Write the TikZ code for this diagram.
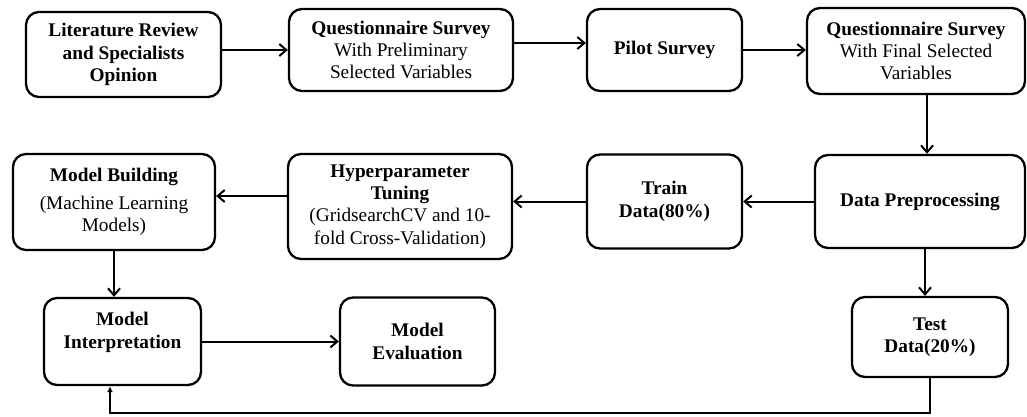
\documentclass[tikz,border=0pt]{standalone}
\usepackage{fontspec}
\setmainfont{Liberation Serif}
\usetikzlibrary{arrows.meta}

\begin{document}
\begin{tikzpicture}[x=1pt,y=-1pt]
      \tikzset{
        every node/.style={rectangle,rounded corners=13pt,line width=2.3pt,draw,align=center,inner sep=2pt,
          font=\fontsize{19.3}{22.3}\selectfont},
        flow/.style={line width=2pt,-{Straight Barb[length=7pt,width=12pt,line width=2pt]}},
        back/.style={line width=1.6pt,-{Latex[length=6pt,width=6pt]}}
      }
      \useasboundingbox (0,0) rectangle (1027,416);

      \node[minimum width=195pt,minimum height=85pt] (lit) at (123.5,54.5)
        {\textbf{Literature Review}\\\textbf{and Specialists}\\\textbf{Opinion}};
      \node[right of=lit,node distance=277.5pt,yshift=4.5pt,minimum width=224pt,minimum height=82pt] (q1)
        {\textbf{Questionnaire Survey}\\With Preliminary\\Selected Variables};
      \node[right of=q1,node distance=263.5pt,minimum width=155pt,minimum height=82pt] (pilot)
        {\textbf{Pilot Survey}};
      \node[right of=pilot,node distance=251.5pt,yshift=-1pt,minimum width=218pt,minimum height=86pt] (q2)
        {\textbf{Questionnaire Survey}\\With Final Selected\\Variables};
      \node[below of=q2,node distance=150.5pt,xshift=4pt,minimum width=210pt,minimum height=93pt] (prep)
        {\textbf{Data Preprocessing}};
      \node[left of=prep,node distance=255.5pt,minimum width=155pt,minimum height=94pt] (train)
        {\textbf{Train}\\\textbf{Data(80\%)}};
      \node[left of=train,node distance=264.5pt,yshift=-5pt,minimum width=224pt,minimum height=105pt] (hyper)
        {\textbf{Hyperparameter}\\\textbf{Tuning}\\(GridsearchCV and 10-\\fold Cross-Validation)};
      \node[left of=hyper,node distance=286pt,yshift=4.5pt,minimum width=202pt,minimum height=96pt] (build)
        {\textbf{Model Building}\\[5pt](Machine Learning\\Models)};
      \node[below of=build,node distance=139.5pt,xshift=8.5pt,minimum width=157pt,minimum height=87pt] (interp)
        {\textbf{Model}\\\textbf{Interpretation}\\\mbox{}};
      \node[right of=interp,node distance=295pt,minimum width=155pt,minimum height=88pt] (eval)
        {\textbf{Model}\\\textbf{Evaluation}};
      \node[below of=prep,node distance=135.5pt,xshift=10pt,minimum width=156pt,minimum height=80pt] (test)
        {\textbf{Test}\\\textbf{Data(20\%)}};

      \draw[flow] (lit.east |- q1.west) -- (q1.west);
      \draw[flow] ([yshift=7pt]q1.east) -- ([yshift=7pt]pilot.west);
      \draw[flow] (pilot.east) -- (pilot.east -| q2.west);
      \draw[flow] ([xshift=11pt]q2.south) -- ([xshift=11pt]q2.south |- prep.north);
      \draw[flow] (prep.west) -- (prep.west -| train.east);
      \draw[flow] (train.west) -- (train.west -| hyper.east);
      \draw[flow] ([yshift=10.5pt]hyper.west) -- ([yshift=10.5pt]hyper.west -| build.east);
      \draw[flow] (build.south) -- (build.south |- interp.north);
      \draw[flow] (interp.east) -- (interp.east -| eval.west);
      \draw[flow] ([xshift=5pt]prep.south) -- ([xshift=5pt]prep.south |- test.north);

      \coordinate (loop) at (110,413);
      \draw[back] (test.south) |- (loop) -- (loop |- interp.south);
    \end{tikzpicture}
\end{document}
